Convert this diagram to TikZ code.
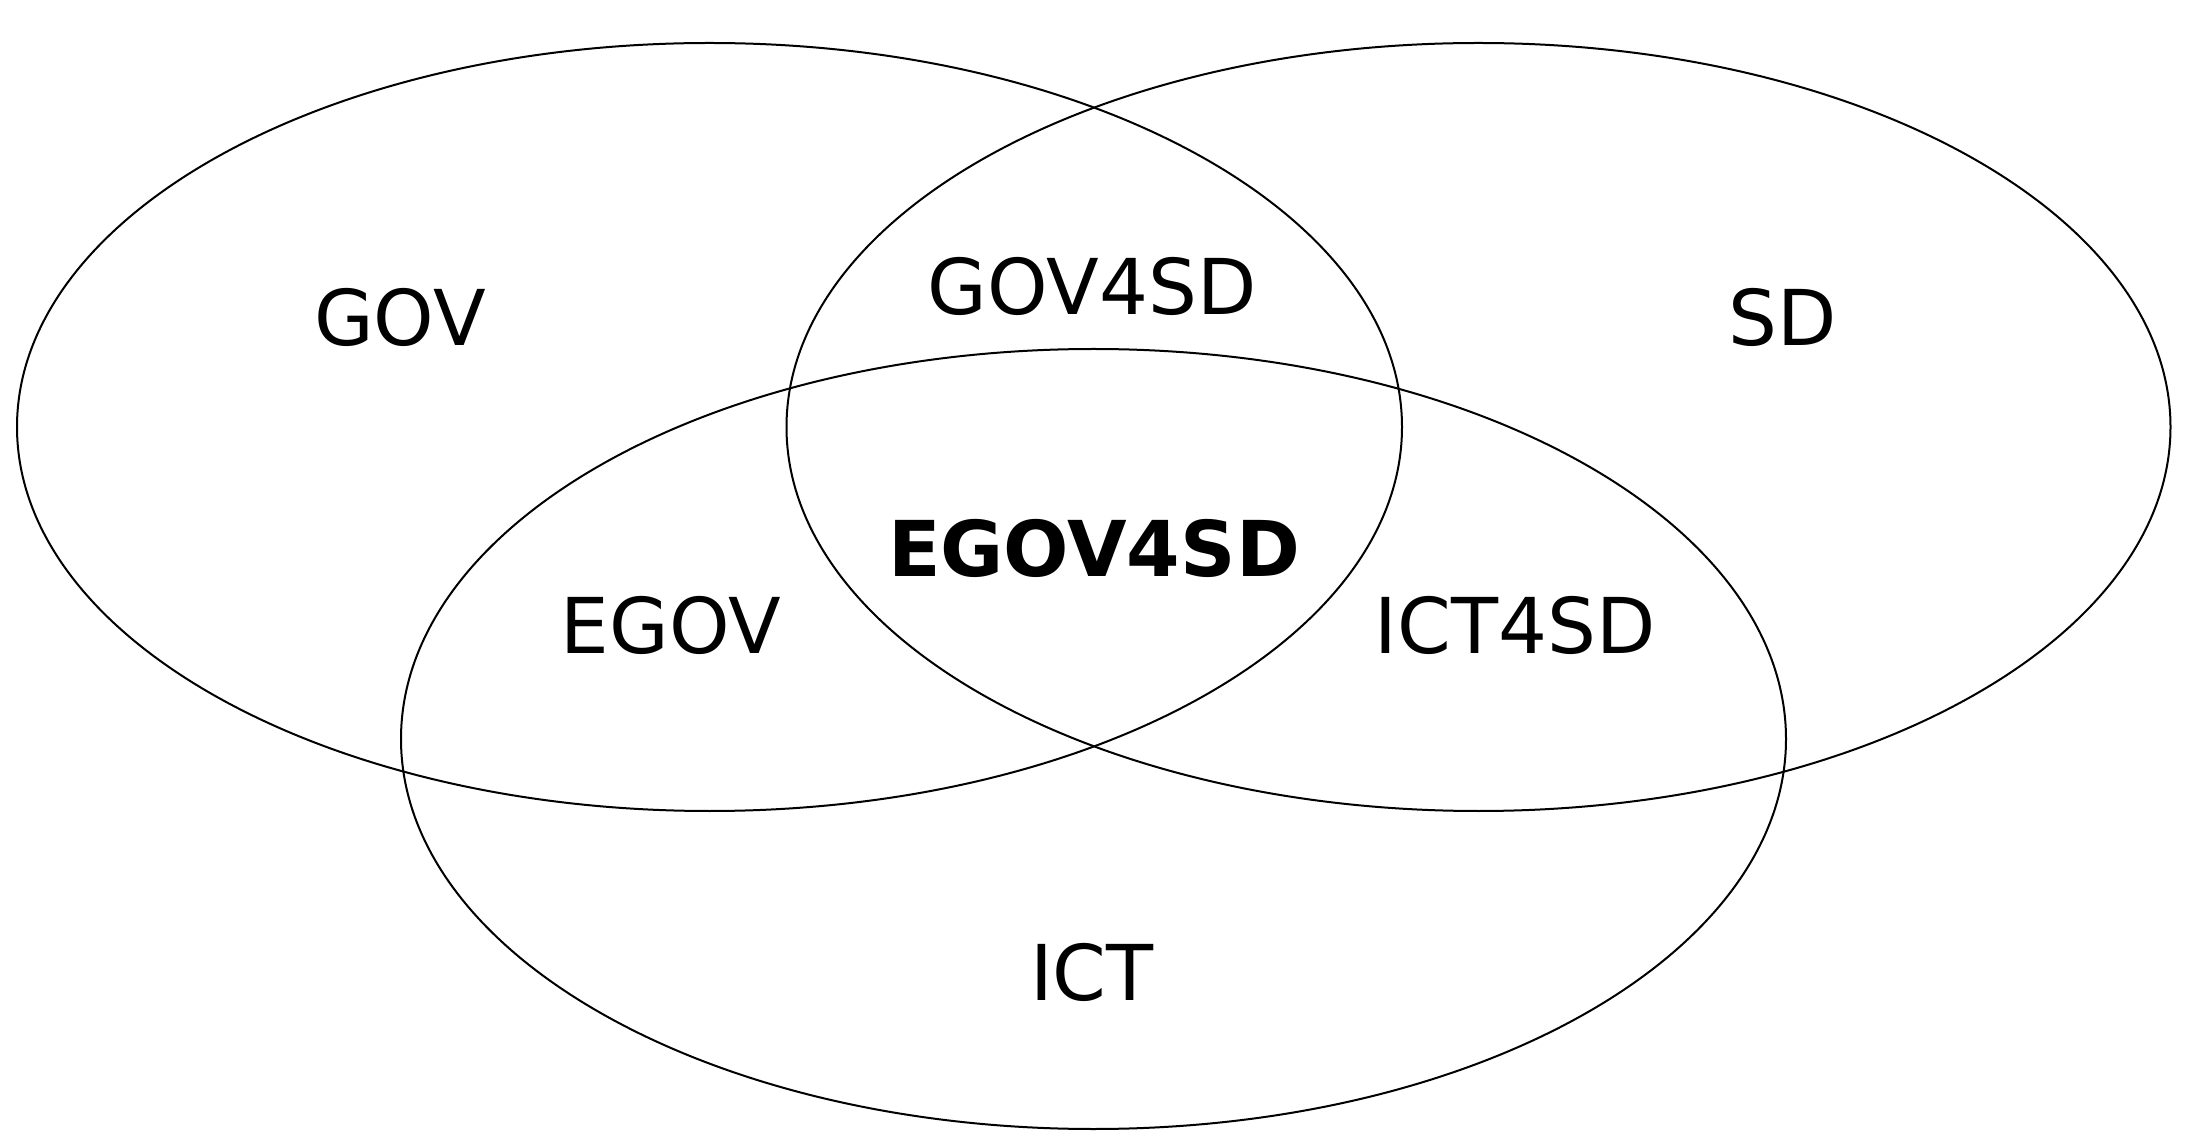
\documentclass[tikz,border=0pt]{standalone}
\usepackage{fontspec}
\setmainfont{DejaVu Sans}
\begin{document}
\begin{tikzpicture}[x=0.5pt,y=-0.5pt,
  venn/.style={draw=black,line width=1pt},
  lbl/.style={inner sep=0pt,outer sep=0pt,anchor=center,font=\fontsize{38.5pt}{44pt}\selectfont},
  lblbold/.style={lbl,font=\fontsize{38.5pt}{44pt}\selectfont\bfseries}]
\useasboundingbox[fill=white] (0,0) rectangle (2201,1138);
\coordinate (gov) at (709.5,427);
\coordinate (sd) at (1478.5,427);
\coordinate (ict) at (1093.5,739);
\draw[venn] (gov) ellipse [x radius=346.25pt, y radius=192pt];
\draw[venn] (sd) ellipse [x radius=346pt, y radius=192pt];
\draw[venn] (ict) ellipse [x radius=346.25pt, y radius=195pt];
\node[lbl] (tgov) at (400,317) {GOV};
\node[lbl] (tsd) at (1783,317) {SD};
\node[lbl] (tgov4sd) at (1092,286) {GOV4SD};
\node[lblbold] (tegov4sd) at (1094,548) {EGOV4SD};
\node[lbl] (tegov) at (671,625) {EGOV};
\node[lbl] (tict4sd) at (1515,625) {ICT4SD};
\node[lbl] (tict) at (1092,972) {ICT};
\end{tikzpicture}
\end{document}
